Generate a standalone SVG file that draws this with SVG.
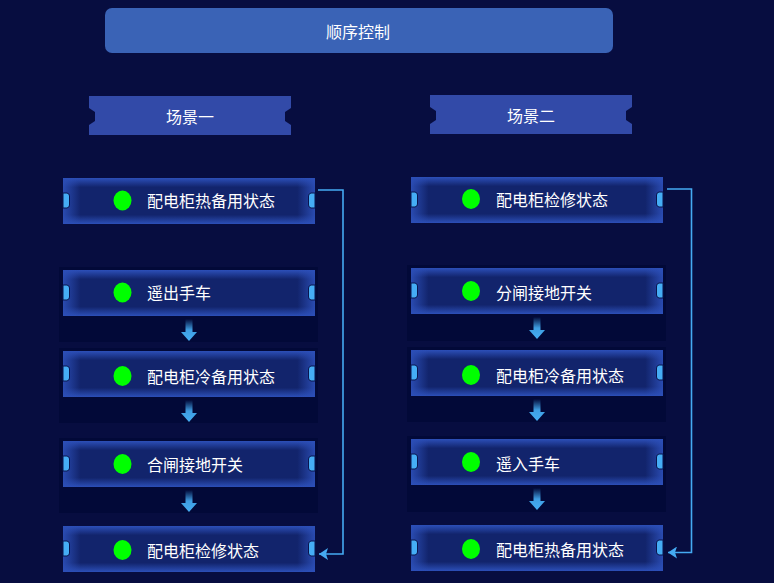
<svg xmlns="http://www.w3.org/2000/svg" width="774" height="583" viewBox="0 0 774 583">
  <defs>
    <linearGradient id="vg" x1="0" y1="0" x2="0" y2="1">
      <stop offset="0" stop-color="#2c4fb8"/>
      <stop offset="0.2" stop-color="#12246c"/>
      <stop offset="0.8" stop-color="#12246c"/>
      <stop offset="1" stop-color="#2c4fb8"/>
    </linearGradient>
    <linearGradient id="hg" x1="0" y1="0" x2="1" y2="0">
      <stop offset="0" stop-color="#2c4fb8" stop-opacity="0.9"/>
      <stop offset="0.07" stop-color="#2c4fb8" stop-opacity="0"/>
      <stop offset="0.93" stop-color="#2c4fb8" stop-opacity="0"/>
      <stop offset="1" stop-color="#2c4fb8" stop-opacity="0.9"/>
    </linearGradient>
    <linearGradient id="ag" x1="0" y1="0" x2="0" y2="1">
      <stop offset="0" stop-color="#45aef5" stop-opacity="0"/>
      <stop offset="0.5" stop-color="#45aef5" stop-opacity="0.9"/>
      <stop offset="1" stop-color="#45aef5"/>
    </linearGradient>
    <marker id="ah" viewBox="0 0 10 12" markerWidth="10" markerHeight="12" refX="9" refY="6" orient="auto" markerUnits="userSpaceOnUse">
      <path d="M9,6 L0,0 L2,6 L0,12 Z" fill="#45aaf2"/>
    </marker>
    <g id="node">
      <rect x="0" y="0" width="252" height="46" fill="url(#vg)"/>
      <rect x="0" y="0" width="252" height="46" fill="url(#hg)"/>
      <path d="M0,15 L4,15 Q6.5,15.5 6.5,18 L6.5,27 Q6.5,29.5 4,30 L0,30 Z" class="tab"/>
      <path d="M252,15 L248,15 Q245.5,15.5 245.5,18 L245.5,27 Q245.5,29.5 248,30 L252,30 Z" class="tab"/>
    </g>
    <g id="arrow">
      <path d="M-3.5,0 H3.5 V13 H8 L0,22 L-8,13 H-3.5 Z" fill="url(#ag)"/>
    </g>
  </defs>
  <style>
    .tab { fill: #45adf5; stroke: #0a1650; stroke-width: 1; }
    .lbl { font-family: "Noto Sans CJK SC", "Noto Sans", sans-serif; font-size: 16px; fill: #ffffff; dominant-baseline: central; }
    .ctr { text-anchor: middle; }
    .dot { fill: #00ff00; }
    .cont { fill: #020938; }
    .conn { fill: none; stroke: #45aaf2; stroke-width: 1.6; }
  </style>
  <rect width="774" height="583" fill="#070d40"/>

  <g id="title">
    <rect x="105" y="8" width="508" height="45" rx="7" fill="#3a63b6"/>
    <text class="lbl ctr" x="358" y="31">顺序控制</text>
  </g>

  <g id="scene1">
    <path d="M89,96 H291 V108 L285,112 V121 L291,125 V135 H89 V125 L95,121 V112 L89,108 Z" fill="#324aa8"/>
    <text class="lbl ctr" x="190" y="116">场景一</text>
  </g>
  <g id="scene2">
    <path d="M430,95 H632 V107 L626,111 V120 L632,124 V134 H430 V124 L436,120 V111 L430,107 Z" fill="#324aa8"/>
    <text class="lbl ctr" x="531" y="115">场景二</text>
  </g>

  <g id="containers">
    <rect class="cont" x="59" y="267" width="259" height="75"/>
    <rect class="cont" x="59" y="348" width="259" height="75"/>
    <rect class="cont" x="59" y="438" width="259" height="75"/>
    <rect class="cont" x="407" y="265" width="259" height="76"/>
    <rect class="cont" x="407" y="347" width="259" height="75"/>
    <rect class="cont" x="407" y="436" width="259" height="76"/>
  </g>

  <g id="L1">
    <use href="#node" x="63" y="178"/>
    <ellipse class="dot" cx="122.5" cy="200.5" rx="9" ry="10"/>
    <text class="lbl" x="147" y="200">配电柜热备用状态</text>
  </g>
  <g id="L2">
    <use href="#node" x="63" y="270"/>
    <ellipse class="dot" cx="122.5" cy="292.5" rx="9" ry="10"/>
    <text class="lbl" x="147" y="292">遥出手车</text>
  </g>
  <g id="L3">
    <use href="#node" x="63" y="351"/>
    <ellipse class="dot" cx="122.5" cy="376" rx="9" ry="10"/>
    <text class="lbl" x="147" y="376">配电柜冷备用状态</text>
  </g>
  <g id="L4">
    <use href="#node" x="63" y="441"/>
    <ellipse class="dot" cx="122.5" cy="464" rx="9" ry="10"/>
    <text class="lbl" x="147" y="464">合闸接地开关</text>
  </g>
  <g id="L5">
    <use href="#node" x="63" y="526"/>
    <ellipse class="dot" cx="122.5" cy="550" rx="9" ry="10"/>
    <text class="lbl" x="147" y="550">配电柜检修状态</text>
  </g>

  <g id="R1">
    <use href="#node" x="411" y="177"/>
    <ellipse class="dot" cx="471" cy="199" rx="9" ry="10"/>
    <text class="lbl" x="496" y="199">配电柜检修状态</text>
  </g>
  <g id="R2">
    <use href="#node" x="411" y="268"/>
    <ellipse class="dot" cx="471" cy="291" rx="9" ry="10"/>
    <text class="lbl" x="496" y="292">分闸接地开关</text>
  </g>
  <g id="R3">
    <use href="#node" x="411" y="350"/>
    <ellipse class="dot" cx="471" cy="375" rx="9" ry="10"/>
    <text class="lbl" x="496" y="375">配电柜冷备用状态</text>
  </g>
  <g id="R4">
    <use href="#node" x="411" y="439"/>
    <ellipse class="dot" cx="471" cy="462" rx="9" ry="10"/>
    <text class="lbl" x="496" y="463">遥入手车</text>
  </g>
  <g id="R5">
    <use href="#node" x="411" y="525"/>
    <ellipse class="dot" cx="471" cy="549" rx="9" ry="10"/>
    <text class="lbl" x="496" y="549">配电柜热备用状态</text>
  </g>

  <g id="connectors">
    <use href="#arrow" x="189" y="319"/>
    <use href="#arrow" x="189" y="400"/>
    <use href="#arrow" x="189" y="490"/>
    <use href="#arrow" x="537" y="317"/>
    <use href="#arrow" x="537" y="399"/>
    <use href="#arrow" x="537" y="488"/>
    <path class="conn" d="M318,190 H343 V554 H319" marker-end="url(#ah)"/>
    <path class="conn" d="M667,189 H691.5 V552.5 H668" marker-end="url(#ah)"/>
  </g>
</svg>
